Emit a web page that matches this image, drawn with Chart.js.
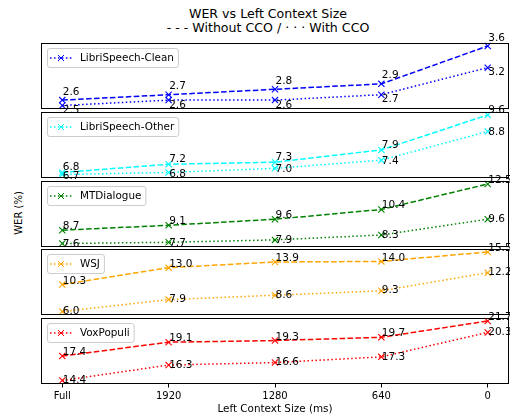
<!DOCTYPE html>
<html>
<head>
<meta charset="utf-8">
<script src="https://cdn.jsdelivr.net/npm/chart.js@4.4.0/dist/chart.umd.min.js"></script>
<style>
  html, body { margin: 0; padding: 0; background: #fff; }
  #fig { position: relative; width: 510px; height: 414px; overflow: hidden; font-family: "DejaVu Sans", sans-serif; color: #000; }
  .title { position: absolute; left: 0; top: 7px; width: 536px; text-align: center; font-size: 12.6px; line-height: 14px; }
  .ylabel { position: absolute; left: 18px; top: 213px; transform: translate(-50%, -50%) rotate(-90deg); font-size: 10px; white-space: nowrap; }
  canvas { position: absolute; }
</style>
</head>
<body>
<div id="fig">
  <div class="title">WER vs Left Context Size<br>- - - Without CCO / · · · With CCO</div>
  <div class="ylabel">WER (%)</div>
</div>
<script>
// data
const contextSizes = ['Full', '1920', '1280', '640', '0'];
const corpora = ['LibriSpeech-Clean', 'LibriSpeech-Other', 'MTDialogue', 'WSJ', 'VoxPopuli'];
const corpusColors = ['blue', 'cyan', 'green', 'orange', 'red'];

const cleanWithout = [2.6, 2.7, 2.8, 2.9, 3.6];
const cleanWith = [2.5, 2.6, 2.6, 2.7, 3.2];
const otherWithout = [6.8, 7.2, 7.3, 7.9, 9.6];
const otherWith = [6.7, 6.8, 7.0, 7.4, 8.8];
const mtdWithout = [8.7, 9.1, 9.6, 10.4, 12.5];
const mtdWith = [7.6, 7.7, 7.9, 8.3, 9.6];
const wsjWithout = [10.3, 13.0, 13.9, 14.0, 15.5];
const wsjWith = [6.0, 7.9, 8.6, 9.3, 12.2];
const voxWithout = [17.4, 19.1, 19.3, 19.7, 21.7];
const voxWith = [14.4, 16.3, 16.6, 17.3, 20.3];

const withoutCCO = [cleanWithout, otherWithout, mtdWithout, wsjWithout, voxWithout];
const withCCO = [cleanWith, otherWith, mtdWith, wsjWith, voxWith];

Chart.defaults.font.family = 'DejaVu Sans';
Chart.defaults.color = '#000';

// frame, value labels and legend box for each panel
const panelDecor = {
    id: 'panelDecor',
    afterDatasetsDraw(chart, args, opts) {
        const ctx = chart.ctx;
        const a = chart.chartArea;
        const y = chart.scales.y;
        ctx.save();

        ctx.strokeStyle = '#000';
        ctx.lineWidth = 1;
        const l = Math.round(a.left), t = Math.round(a.top);
        const r = Math.round(a.right), b = Math.round(a.bottom);
        ctx.strokeRect(l + 0.5, t + 0.5, r - l - 1, b - t - 1);

        ctx.font = '10.5px "DejaVu Sans"';
        ctx.fillStyle = '#000';
        ctx.textAlign = 'left';
        ctx.textBaseline = 'alphabetic';
        chart.data.datasets.forEach((ds, di) => {
            chart.getDatasetMeta(di).data.forEach((pt, i) => {
                const v = ds.data[i].y;
                const ty = di === 0 ? y.getPixelForValue(v + 0.1) : y.getPixelForValue(v - 0.1) + 2;
                ctx.fillText(v.toFixed(1), pt.x + 0.5, ty);
            });
        });

        // legend
        ctx.font = '10.4px "DejaVu Sans"';
        const lx = l + 6, ly = t + 5, h = 19;
        const tw = ctx.measureText(opts.label).width;
        const w = 33 + tw + 4;
        ctx.beginPath();
        ctx.roundRect(lx + 0.5, ly + 0.5, w, h, 2.5);
        ctx.fillStyle = 'rgba(255,255,255,0.8)';
        ctx.fill();
        ctx.strokeStyle = '#cccccc';
        ctx.stroke();

        const hy = ly + h / 2 + 0.5;
        ctx.strokeStyle = opts.color;
        ctx.lineWidth = 1.5;
        ctx.setLineDash([1.5, 2.475]);
        ctx.beginPath();
        ctx.moveTo(lx + 3, hy);
        ctx.lineTo(lx + 25, hy);
        ctx.stroke();
        ctx.setLineDash([]);
        ctx.lineWidth = 1;
        const mx = lx + 14, mr = 3;
        ctx.beginPath();
        ctx.moveTo(mx - mr, hy - mr); ctx.lineTo(mx + mr, hy + mr);
        ctx.moveTo(mx - mr, hy + mr); ctx.lineTo(mx + mr, hy - mr);
        ctx.stroke();

        ctx.fillStyle = '#000';
        ctx.textBaseline = 'middle';
        ctx.fillText(opts.label, lx + 33, hy);
        ctx.restore();
    }
};

const fig = document.getElementById('fig');
const CANVAS_LEFT = 36, CANVAS_W = 474;   // panel spans x 41..509
const PANEL_H = 65.5;

corpora.forEach((name, p) => {
    const isLast = p === corpora.length - 1;
    const panelTop = Math.round(43 + p * 68.75);
    const canvasTop = panelTop - 16;
    const padTop = panelTop - canvasTop;
    const canvasH = isLast ? 416 - canvasTop : Math.ceil(padTop + PANEL_H + 6);
    const padBottom = isLast ? 0 : canvasH - padTop - PANEL_H;
    const axisH = 416 - (panelTop + PANEL_H);

    const canvas = document.createElement('canvas');
    canvas.width = CANVAS_W;
    canvas.height = canvasH;
    canvas.style.left = CANVAS_LEFT + 'px';
    canvas.style.top = canvasTop + 'px';
    fig.appendChild(canvas);

    const color = corpusColors[p];
    const all = withoutCCO[p].concat(withCCO[p]);
    const lo = Math.min(...all), hi = Math.max(...all);
    const margin = (hi - lo) * 0.05;

    new Chart(canvas, {
        type: 'line',
        data: {
            datasets: [
                {
                    label: name + ' (without CCO)',
                    data: withoutCCO[p].map((v, i) => ({ x: i, y: v })),
                    borderColor: color,
                    borderDash: [5.55, 2.4],
                    pointBorderColor: color,
                    pointBackgroundColor: color
                },
                {
                    label: name + ' (with CCO)',
                    data: withCCO[p].map((v, i) => ({ x: i, y: v })),
                    borderColor: color,
                    borderDash: [1.5, 2.475],
                    pointBorderColor: color,
                    pointBackgroundColor: color
                }
            ]
        },
        options: {
            responsive: false,
            animation: false,
            events: [],
            layout: { autoPadding: false, padding: { left: 5, right: 1, top: padTop, bottom: padBottom } },
            elements: {
                line: { borderWidth: 1.5, tension: 0, fill: false },
                point: { pointStyle: 'crossRot', radius: 4.4, hoverRadius: 4.4, borderWidth: 1.1 }
            },
            datasets: { line: { clip: false } },
            plugins: {
                legend: { display: false },
                tooltip: { enabled: false },
                panelDecor: { label: name, color: color }
            },
            scales: {
                x: {
                    type: 'linear',
                    min: -0.2,
                    max: 4.2,
                    display: isLast,
                    afterBuildTicks: s => { s.ticks = contextSizes.map((_, i) => ({ value: i })); },
                    afterFit: s => { if (isLast) s.height = axisH; },
                    ticks: {
                        callback: v => contextSizes[v],
                        color: '#000',
                        font: { size: 10 },
                        padding: 3,
                        maxRotation: 0,
                        autoSkip: false
                    },
                    grid: { display: true, drawOnChartArea: false, drawTicks: true, tickLength: 4, color: '#000' },
                    border: { display: false },
                    title: { display: true, text: 'Left Context Size (ms)', color: '#000', font: { size: 10.4 }, padding: 0 }
                },
                y: { display: false, min: lo - margin, max: hi + margin }
            }
        },
        plugins: [panelDecor]
    });
});
</script>
</body>
</html>
